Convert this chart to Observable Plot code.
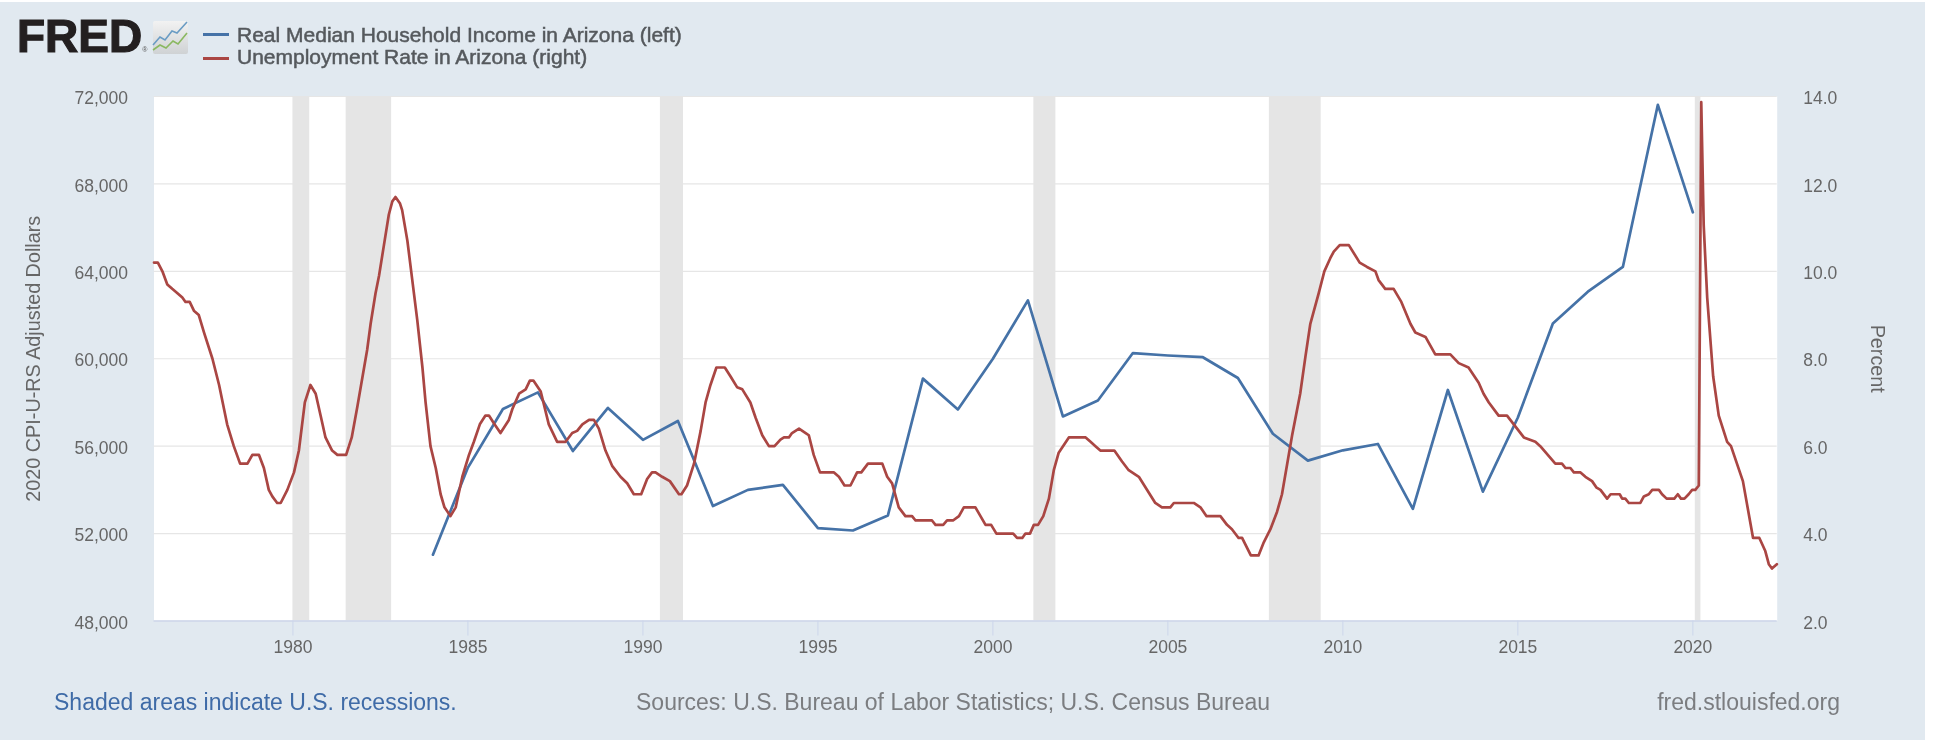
<!DOCTYPE html>
<html>
<head>
<meta charset="utf-8">
<script src="https://cdn.jsdelivr.net/npm/d3@7"></script>
<script src="https://cdn.jsdelivr.net/npm/@observablehq/plot@0.6"></script>
<style>
html,body{margin:0;padding:0;background:#fff;}
#page{position:relative;width:1925px;height:738px;margin-top:2px;background:#e1e9f0;font-family:"Liberation Sans",Arial,sans-serif;overflow:hidden;filter:blur(0.45px);}
#chart{position:absolute;left:0;top:0;}
.t{position:absolute;white-space:nowrap;}
.sw{position:absolute;width:26px;height:3px;}
#page svg text{font-family:"Liberation Sans",Arial,sans-serif;}
.leg{font-size:21px;line-height:24px;color:#55595d;-webkit-text-stroke:0.5px #55595d;}
.cap{top:687px;font-size:23px;line-height:26px;color:#7b7d80;}
</style>
</head>
<body>
<div id="page">
  <div id="chart"></div>
  <div class="t" style="left:17px;top:8px;font-size:46px;line-height:52px;font-weight:700;color:#231f20;-webkit-text-stroke:1.2px #231f20;">FRED<span style="font-size:7px;font-weight:400;-webkit-text-stroke:0;color:#555;">®</span></div>
  <svg style="position:absolute;left:152px;top:18px" width="37" height="35" viewBox="0 0 37 35">
    <defs><linearGradient id="g" x1="0" y1="0" x2="0" y2="1"><stop offset="0" stop-color="#f2f2f2"/><stop offset="1" stop-color="#cfd2d4"/></linearGradient></defs>
    <rect x="1" y="1" width="35" height="33" rx="2" fill="url(#g)"/>
    <polyline points="1,25 8,17 13,20 20,11 25,13 35,2" fill="none" stroke="#6a9cc4" stroke-width="1.6"/>
    <polyline points="1,30 8,25 14,28 21,21 26,24 35,13" fill="none" stroke="#8ab860" stroke-width="1.6"/>
  </svg>
  <div class="sw" style="left:203px;top:30.5px;background:#4572a7"></div>
  <div class="sw" style="left:203px;top:54.5px;background:#aa4643"></div>
  <div class="t leg" id="leg1" style="left:237px;top:20.5px;"></div>
  <div class="t leg" id="leg2" style="left:237px;top:43px;"></div>
  <div class="t cap" id="cap1" style="left:54px;color:#3f6ba7;"></div>
  <div class="t cap" id="cap2" style="left:636px;"></div>
  <div class="t cap" id="cap3" style="right:85px;"></div>
</div>
<script>
const legendIncome = "Real Median Household Income in Arizona (left)";
const legendUnemployment = "Unemployment Rate in Arizona (right)";
const captionLeft = "Shaded areas indicate U.S. recessions.";
const captionMiddle = "Sources: U.S. Bureau of Labor Statistics; U.S. Census Bureau";
const captionRight = "fred.stlouisfed.org";
const leftAxisTitle = "2020 CPI-U-RS Adjusted Dollars";
const rightAxisTitle = "Percent";

const xTicks = [1980,1985,1990,1995,2000,2005,2010,2015,2020];
const leftTicks = [48000,52000,56000,60000,64000,68000,72000];
const rightTicks = [2,4,6,8,10,12,14];

const recessionStarts = [1980.0,1981.52,1990.5,2001.17,2007.9,2020.07];
const recessionEnds   = [1980.48,1982.82,1991.16,2001.8,2009.38,2020.23];

const incomeYears = [1984,1985,1986,1987,1988,1989,1990,1991,1992,1993,1994,1995,1996,1997,1998,1999,2000,2001,2002,2003,2004,2005,2006,2007,2008,2009,2010,2011,2012,2013,2014,2015,2016,2017,2018,2019,2020];
const incomeValues = [51035,55020,57700,58460,55780,57750,56290,57150,53260,54000,54230,52250,52140,52830,59090,57680,60000,62670,57360,58090,60260,60150,60070,59120,56570,55340,55810,56100,53130,58570,53920,57310,61610,63070,64200,71620,66700];

const unemploymentYears = [
1976.03,1976.14,1976.27,1976.41,1976.55,1976.70,1976.84,1976.93,1977.05,1977.17,1977.31,1977.46,1977.70,1977.89,
1978.12,1978.31,1978.49,1978.70,1978.84,1979.03,1979.17,1979.31,1979.41,1979.55,1979.65,1979.84,
1980.03,1980.17,1980.34,1980.50,1980.65,1980.79,1980.93,1981.12,1981.27,1981.52,1981.68,1981.84,
1982.12,1982.22,1982.36,1982.46,1982.60,1982.74,1982.84,1982.93,1983.06,1983.12,1983.27,1983.41,1983.55,1983.70,1983.79,1983.93,
1984.08,1984.22,1984.33,1984.50,1984.65,1984.84,1985.03,1985.17,1985.34,1985.50,1985.60,1985.76,1985.93,
1986.17,1986.27,1986.46,1986.65,1986.77,1986.87,1987.08,1987.31,1987.55,1987.79,1987.98,
1988.12,1988.27,1988.46,1988.60,1988.74,1988.93,1989.12,1989.36,1989.55,1989.74,1989.95,
1990.12,1990.26,1990.36,1990.55,1990.77,1991.03,1991.10,1991.26,1991.46,1991.65,1991.79,1991.93,
1992.10,1992.34,1992.50,1992.69,1992.84,1993.07,1993.22,1993.41,1993.60,1993.76,1993.93,
1994.03,1994.17,1994.26,1994.46,1994.65,1994.74,1994.88,1995.06,1995.46,1995.60,1995.76,1995.93,
1996.12,1996.24,1996.43,1996.84,1996.98,1997.12,1997.31,1997.50,1997.69,1997.79,
1998.26,1998.36,1998.58,1998.69,1998.86,1999.03,1999.17,1999.50,1999.79,1999.95,
2000.10,2000.58,2000.69,2000.84,2000.93,2001.06,2001.17,2001.29,2001.44,2001.60,2001.74,2001.88,
2002.17,2002.65,2002.79,2002.93,2003.07,2003.47,2003.69,2003.88,2004.17,2004.64,2004.83,
2005.07,2005.17,2005.74,2005.93,2006.10,2006.50,2006.69,2006.83,2007.02,2007.12,2007.37,2007.59,2007.74,2007.93,
2008.12,2008.26,2008.40,2008.55,2008.78,2008.93,2009.07,2009.31,2009.47,2009.64,2009.74,2009.91,
2010.17,2010.48,2010.69,2010.93,2011.02,2011.21,2011.45,2011.67,2011.93,2012.07,2012.36,2012.64,
2013.07,2013.31,2013.59,2013.88,2014.02,2014.17,2014.45,2014.69,2015.17,2015.50,2015.64,2016.07,2016.26,
2016.36,2016.50,2016.60,2016.79,2016.93,2017.12,2017.25,2017.36,2017.55,2017.65,2017.91,2017.98,
2018.07,2018.17,2018.50,2018.60,2018.74,2018.84,2019.03,2019.12,2019.25,2019.47,2019.57,2019.66,2019.76,2019.88,2019.98,
2020.07,2020.17,2020.24,2020.31,2020.41,2020.58,2020.74,2020.98,2021.09,2021.43,2021.72,2021.90,2022.07,2022.17,2022.26,2022.40];
const unemploymentRates = [
10.2,10.2,10.0,9.7,9.6,9.5,9.4,9.3,9.3,9.1,9.0,8.6,8.0,7.4,
6.5,6.0,5.6,5.6,5.8,5.8,5.5,5.0,4.85,4.7,4.7,5.0,
5.4,5.9,7.0,7.4,7.2,6.7,6.2,5.9,5.8,5.8,6.2,6.9,
8.2,8.8,9.5,9.9,10.6,11.3,11.6,11.7,11.55,11.4,10.7,9.8,8.9,7.8,7.0,6.0,
5.5,4.9,4.6,4.4,4.6,5.3,5.8,6.1,6.5,6.7,6.7,6.5,6.3,
6.6,6.85,7.2,7.3,7.5,7.5,7.25,6.5,6.1,6.1,6.3,
6.35,6.5,6.6,6.6,6.4,5.9,5.55,5.3,5.15,4.9,4.9,
5.25,5.4,5.4,5.3,5.2,4.9,4.9,5.1,5.6,6.35,7.0,7.4,
7.8,7.8,7.6,7.35,7.3,7.0,6.65,6.25,6.0,6.0,6.15,
6.2,6.2,6.3,6.4,6.3,6.25,5.8,5.4,5.4,5.3,5.1,5.1,
5.4,5.4,5.6,5.6,5.3,5.15,4.6,4.4,4.4,4.3,
4.3,4.2,4.2,4.3,4.3,4.4,4.6,4.6,4.2,4.2,
4.0,4.0,3.9,3.9,4.0,4.0,4.2,4.2,4.4,4.8,5.45,5.85,
6.2,6.2,6.1,6.0,5.9,5.9,5.65,5.45,5.3,4.7,4.6,
4.6,4.7,4.7,4.6,4.4,4.4,4.2,4.1,3.9,3.9,3.5,3.5,3.8,4.1,
4.5,4.9,5.55,6.25,7.2,8.05,8.8,9.5,10.0,10.3,10.45,10.6,
10.6,10.2,10.1,10.0,9.8,9.6,9.6,9.3,8.8,8.6,8.5,8.1,
8.1,7.9,7.8,7.45,7.2,7.0,6.7,6.7,6.2,6.1,6.0,5.6,5.6,
5.5,5.5,5.4,5.4,5.3,5.2,5.05,5.0,4.8,4.9,4.9,4.8,
4.8,4.7,4.7,4.85,4.9,5.0,5.0,4.9,4.8,4.8,4.9,4.8,4.8,4.9,5.0,
5.0,5.1,13.87,11.05,9.4,7.6,6.7,6.1,6.0,5.2,3.9,3.9,3.6,3.3,3.2,3.3];

document.getElementById("leg1").textContent = legendIncome;
document.getElementById("leg2").textContent = legendUnemployment;
document.getElementById("cap1").textContent = captionLeft;
document.getElementById("cap2").textContent = captionMiddle;
document.getElementById("cap3").textContent = captionRight;

// right axis (percent) expressed on the left (dollar) scale
const toLeft = p => 48000 + (p - 2) * 2000;
const income = incomeYears.map((x, i) => ({x, y: incomeValues[i]}));
const unemployment = unemploymentYears.map((x, i) => ({x, y: toLeft(unemploymentRates[i])}));
const recessions = recessionStarts.map((x1, i) => ({x1, x2: recessionEnds[i]}));

const tickFont = {fontSize: 17.5, fill: "#666"};
const chart = Plot.plot({
  width: 1925,
  height: 738,
  marginTop: 94,
  marginBottom: 119.5,
  marginLeft: 153.5,
  marginRight: 148.3,
  style: {background: "transparent", overflow: "visible"},
  x: {domain: [1976.03, 2022.41], axis: null},
  y: {domain: [48000, 72000], axis: null},
  marks: [
    Plot.frame({fill: "#fff", stroke: null}),
    Plot.gridY(leftTicks, {stroke: "#e6e6e6", strokeOpacity: 1, strokeWidth: 1.2}),
    Plot.rectX(recessions, {x1: "x1", x2: "x2", fill: "#e5e5e5"}),
    Plot.ruleY([48000], {stroke: "#ccd6eb", strokeWidth: 1.5}),
    Plot.axisX({ticks: xTicks, tickFormat: d => String(d), tickSize: 15, tickPadding: 5, stroke: "#ccd6eb", label: null, ...tickFont}),
    Plot.axisY({ticks: leftTicks, anchor: "left", tickSize: 0, tickPadding: 26, tickFormat: d3.format(","), dy: 2, label: null, ...tickFont}),
    Plot.axisY({ticks: rightTicks.map(toLeft), anchor: "right", tickSize: 0, tickPadding: 26,
      tickFormat: d => ((d - 48000) / 2000 + 2).toFixed(1), dy: 2, label: null, ...tickFont}),
    Plot.text([leftAxisTitle], {frameAnchor: "left", textAnchor: "middle", rotate: -90, dx: -120, fontSize: 19.8, fill: "#666"}),
    Plot.text([rightAxisTitle], {frameAnchor: "right", textAnchor: "middle", rotate: 90, dx: 100, fontSize: 19.8, fill: "#666"}),
    Plot.line(income, {x: "x", y: "y", stroke: "#4572a7", strokeWidth: 2.7}),
    Plot.line(unemployment, {x: "x", y: "y", stroke: "#aa4643", strokeWidth: 2.7})
  ]
});
document.getElementById("chart").appendChild(chart);
</script>
</body>
</html>
